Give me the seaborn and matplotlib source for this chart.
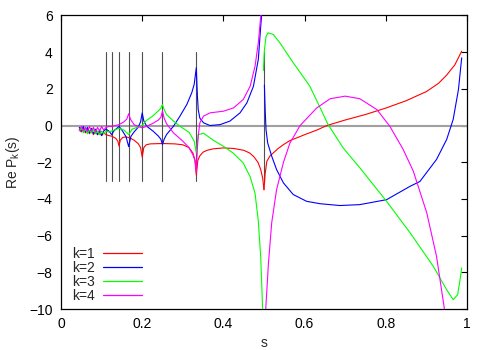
import numpy as np
import pandas as pd
import matplotlib
matplotlib.use("Agg")
import matplotlib.pyplot as plt
import seaborn as sns
from matplotlib.lines import Line2D

sns.set_theme(style="white")
plt.rcParams['font.family'] = ['Liberation Sans', 'DejaVu Sans']
plt.rcParams['mathtext.default'] = 'regular'

# ---------------- data ----------------
# k=1 (red)
s_k1_a = [0.045, 0.05, 0.055, 0.06, 0.065, 0.07, 0.075, 0.08, 0.085, 0.09, 0.095, 0.1, 0.105,
          0.111, 0.118, 0.125, 0.135, 0.14, 0.1429, 0.146, 0.152, 0.16, 0.17, 0.18, 0.19, 0.196,
          0.2, 0.204, 0.21, 0.22, 0.25, 0.28, 0.3, 0.315, 0.325, 0.33, 0.3333, 0.337, 0.342, 0.35,
          0.36, 0.375, 0.4, 0.425, 0.45, 0.465, 0.475, 0.485, 0.492, 0.497, 0.5]
re_k1_a = [-0.2, -0.35, -0.15, -0.4, -0.2, -0.45, -0.25, -0.5, -0.3, -0.5, -0.35, -0.55, -0.4,
           -0.5, -0.55, -0.58, -0.7, -0.85, -1.12, -0.8, -0.65, -0.62, -0.68, -0.8, -0.98, -1.2,
           -1.72, -1.2, -1.05, -1.0, -0.98, -1.0, -1.05, -1.2, -1.5, -1.9, -2.7, -1.9, -1.65, -1.45,
           -1.35, -1.27, -1.22, -1.25, -1.35, -1.5, -1.7, -2.0, -2.4, -2.9, -3.5]
s_k1_b = [0.5, 0.503, 0.507, 0.515, 0.523, 0.535, 0.548, 0.564, 0.581, 0.6, 0.63, 0.655, 0.7,
          0.75, 0.8, 0.85, 0.9, 0.93, 0.95, 0.97, 0.987]
re_k1_b = [-3.5, -2.6, -1.95, -1.65, -1.49, -1.25, -1.04, -0.82, -0.67, -0.5, -0.25, 0.0, 0.3,
           0.6, 0.95, 1.35, 1.85, 2.3, 2.75, 3.3, 4.05]

# k=2 (blue)
s_k2_a = [0.045, 0.05, 0.055, 0.06, 0.065, 0.07, 0.075, 0.08, 0.085, 0.09, 0.095, 0.1, 0.105,
          0.111, 0.118, 0.125, 0.13, 0.1429, 0.15, 0.16, 0.1667, 0.172, 0.18, 0.19, 0.196, 0.2,
          0.204, 0.211, 0.227, 0.24, 0.246, 0.25, 0.254, 0.26, 0.277, 0.293, 0.31, 0.322, 0.328,
          0.3333, 0.336, 0.338, 0.342, 0.351, 0.367, 0.392, 0.416, 0.441, 0.458, 0.474, 0.486,
          0.492, 0.496]
re_k2_a = [-0.1, -0.3, -0.05, -0.35, -0.1, -0.4, -0.15, -0.45, -0.2, -0.5, -0.25, -0.55, -0.3,
           -0.2, -0.3, -0.5, -0.3, -0.05, -0.25, -0.6, -1.15, -0.6, -0.35, -0.1, 0.2, 0.69,
           0.25, -0.04, -0.31, -0.58, -0.75, -1.04, -0.75, -0.49, -0.04, 0.51, 1.15, 1.78, 2.24,
           3.15, 1.6, 0.87, 0.4, 0.15, 0.0, 0.05, 0.24, 0.69, 1.24, 2.14, 3.6, 5.42, 6.5]
s_k2_b = [0.501, 0.503, 0.505, 0.509, 0.519, 0.531, 0.548, 0.572, 0.605, 0.638, 0.687, 0.736,
          0.802, 0.86, 0.884, 0.9, 0.925, 0.95, 0.966, 0.979, 0.987]
re_k2_b = [2.2, 0.8, -0.22, -0.94, -1.67, -2.4, -3.13, -3.76, -4.13, -4.26, -4.36, -4.31,
           -4.04, -3.31, -3.05, -2.58, -1.85, -0.76, 0.33, 1.96, 3.69]

# k=3 (green)
s_k3_a = [0.045, 0.05, 0.055, 0.06, 0.065, 0.07, 0.075, 0.08, 0.085, 0.09, 0.095, 0.1, 0.105,
          0.111, 0.118, 0.125, 0.1429, 0.155, 0.1667, 0.175, 0.19, 0.2, 0.21, 0.225, 0.24, 0.246,
          0.25, 0.254, 0.26, 0.277, 0.293, 0.316, 0.328, 0.3333, 0.338, 0.351, 0.375, 0.4, 0.424,
          0.449, 0.466, 0.478, 0.486, 0.492, 0.4975]
re_k3_a = [-0.3, -0.15, -0.4, -0.2, -0.45, -0.25, -0.4, -0.2, -0.45, -0.3, -0.5, -0.3, -0.45,
           -0.3, -0.35, -0.3, -0.15, -0.25, -0.5, -0.2, -0.08, 0.0, 0.27, 0.5, 0.8, 0.95,
           1.15, 0.87, 0.6, 0.24, -0.04, -0.38, -0.85, -1.49, -0.5, -0.42, -0.8, -1.13, -1.5,
           -2.04, -2.8, -3.7, -5.2, -7.2, -10.5]
s_k3_b = [0.4985, 0.501, 0.505, 0.51, 0.523, 0.539, 0.572, 0.613, 0.658, 0.695, 0.736, 0.802,
          0.86, 0.917, 0.95, 0.966, 0.977, 0.983, 0.987]
re_k3_b = [3.0, 4.1, 4.85, 5.05, 4.96, 4.51, 3.42, 2.14, 0.05, -1.22, -2.3, -4.13,
           -5.85, -7.67, -8.95, -9.49, -9.22, -8.4, -7.76]

# k=4 (magenta)
s_k4_a = [0.045, 0.05, 0.055, 0.06, 0.065, 0.07, 0.075, 0.08, 0.085, 0.09, 0.095, 0.1, 0.105,
          0.111, 0.118, 0.125, 0.135, 0.1429, 0.155, 0.162, 0.1667, 0.171, 0.18, 0.19, 0.2, 0.21,
          0.225, 0.24, 0.246, 0.25, 0.254, 0.26, 0.277, 0.3, 0.315, 0.325, 0.33, 0.3333, 0.336,
          0.338, 0.342, 0.351, 0.367, 0.4, 0.425, 0.449, 0.466, 0.478, 0.486, 0.492, 0.495]
re_k4_a = [-0.25, -0.05, -0.3, -0.1, -0.35, -0.05, -0.3, -0.1, -0.35, -0.1, -0.3, -0.05, -0.25,
           -0.1, -0.05, -0.05, 0.0, 0.05, 0.2, 0.35, 0.64, 0.35, 0.05, -0.05, -0.13, -0.05,
           0.1, 0.3, 0.45, 0.8, 0.4, 0.1, -0.4, -0.85, -1.2, -1.6, -1.9, -2.55, -1.2,
           -0.58, 0.15, 0.51, 0.69, 0.78, 0.96, 1.42, 2.14, 3.24, 4.5, 5.96, 6.5]
s_k4_b = [0.5035, 0.511, 0.519, 0.531, 0.548, 0.564, 0.589, 0.63, 0.663, 0.7, 0.736, 0.778,
          0.81, 0.843, 0.868, 0.901, 0.925, 0.944, 0.946]
re_k4_b = [-10.3, -7.5, -5.3, -3.5, -2.0, -0.95, 0.0, 0.96, 1.46, 1.6, 1.46, 0.87,
           -0.04, -1.31, -2.5, -4.76, -7.13, -9.93, -10.3]

# vertical marker lines at s = 1/n
marker_n = [2, 3, 4, 5, 6, 7, 8, 9]
marker_lo, marker_hi = -3, 4

labels = ["k=1", "k=2", "k=3", "k=4"]
colors = ["#ff0000", "#0000ff", "#00ff00", "#ff00ff"]
segments = [
    [(s_k1_a, re_k1_a), (s_k1_b, re_k1_b)],
    [(s_k2_a, re_k2_a), (s_k2_b, re_k2_b)],
    [(s_k3_a, re_k3_a), (s_k3_b, re_k3_b)],
    [(s_k4_a, re_k4_a), (s_k4_b, re_k4_b)],
]

# ---------------- figure ----------------
fig = plt.figure(figsize=(4.9, 3.5), dpi=100)
ax = fig.add_axes([0.1245, 0.117, 0.8285, 0.839])

ax.axhline(0, color="#a0a0a0", lw=1.5, zorder=1)
for n in marker_n:
    ax.plot([1.0 / n, 1.0 / n], [marker_lo, marker_hi], color="#505050", lw=0.8, zorder=2)

for lab, col, segs in zip(labels, colors, segments):
    for (sx, sy) in segs:
        df = pd.DataFrame({"s": sx, "re": sy})
        sns.lineplot(data=df, x="s", y="re", ax=ax, color=col, lw=0.8,
                     estimator=None, sort=False, legend=False, zorder=3)

ax.set_xlim(0, 1)
ax.set_ylim(-10, 6)
ax.set_xticks([0, 0.2, 0.4, 0.6, 0.8, 1.0])
ax.set_xticklabels(["0", "0.2", "0.4", "0.6", "0.8", "1"])
ax.set_yticks(range(-10, 7, 2))
ax.tick_params(direction="in", length=4.5, width=0.8, top=True, right=True,
               labelsize=10, colors="black", pad=6)
for sp in ax.spines.values():
    sp.set_color("black")
    sp.set_linewidth(0.9)

ax.set_xlabel("s", fontsize=10, labelpad=3)
ax.set_ylabel(r"Re P$_{k}$(s)", fontsize=10, labelpad=5)

handles = [Line2D([0], [0], color=c, lw=0.9) for c in colors]
ax.legend(handles, labels, loc="lower left", bbox_to_anchor=(0.012, 0.0), frameon=False,
          markerfirst=False, fontsize=10, handlelength=2.8, handletextpad=0.6,
          labelspacing=0.0, borderaxespad=0.25, borderpad=0.2)

fig.savefig("out.png", dpi=100)
